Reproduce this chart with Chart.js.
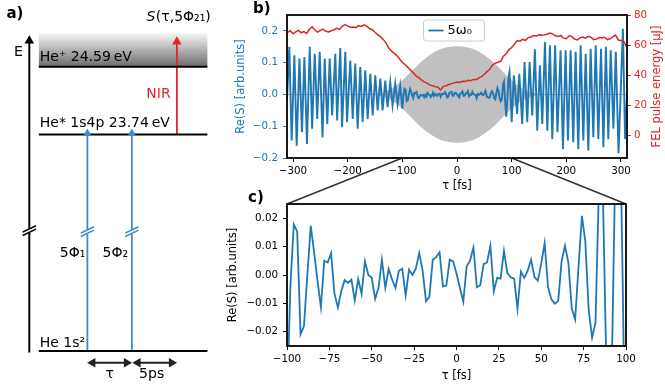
<!DOCTYPE html>
<html>
<head>
<meta charset="utf-8">
<script src="https://cdn.jsdelivr.net/npm/chart.js@4.4.0/dist/chart.umd.min.js"></script>
<style>
  html, body { margin: 0; padding: 0; background: #fff; }
  #wrap { position: relative; width: 665px; height: 388px; overflow: hidden; }
  canvas { position: absolute; }
  #ca { left: 0; top: 0; }
  #cc { left: 225px; top: 150px; }
  #cb { left: 225px; top: 0; }
</style>
</head>
<body>
<div id="wrap">
  <canvas id="ca" width="230" height="388"></canvas>
  <canvas id="cc" width="440" height="238"></canvas>
  <canvas id="cb" width="440" height="200"></canvas>
</div>
<script>
// ---- data ----
// panel b, outer parts: turning points of Re(S) (tau in fs)
const tauLeft = [-311, -306.8, -302.5, -297.5, -293.3, -288.3, -283.6, -279.2, -274.5, -269.4,
  -265.0, -260.3, -255.7, -251.2, -246.0, -242.0, -237.3, -232.9, -228.4, -222.6,
  -219.3, -213.5, -210.3, -204.3, -201.2, -195.2, -190.8, -186.1, -181.7, -176.9,
  -172.6, -167.8, -163.4, -158.6, -154.3, -149.5, -145.2, -140.3, -136.1, -131.2,
  -127.0, -122.1, -117.9, -113.0, -108.7, -103.9];
const reLeft = [-0.02, 0.150, -0.145, 0.123, -0.161, 0.113, -0.119, 0.118, -0.156, 0.150,
  -0.108, 0.128, -0.077, 0.134, -0.135, 0.113, -0.093, 0.113, -0.066, 0.128,
  -0.082, 0.146, -0.103, 0.134, -0.087, 0.107, -0.077, 0.097, -0.108, 0.086,
  -0.087, 0.076, -0.077, 0.065, -0.066, 0.060, -0.050, 0.050, -0.050, 0.044,
  -0.040, 0.039, -0.035, 0.034, -0.030, 0.028];
const tauRight = [104, 110, 114, 119.3, 123.6, 128.5, 132.8, 137.7, 142.5, 146.8,
  151.7, 156, 160.9, 165.2, 170, 174.3, 179.5, 183.8, 189.5, 193.8,
  198.7, 203, 207.8, 212.7, 217, 221.9, 226.2, 231.1, 235.4, 240.3,
  244.5, 249.4, 253.7, 258.6, 263.5, 267.8, 272.4, 276.8, 281.2, 286.1,
  290.5, 295.5, 303.5, 307.5, 311];
const reRight = [0.06, -0.061, 0.065, -0.093, 0.102, -0.087, 0.102, -0.066, 0.142, -0.114,
  0.092, -0.093, 0.165, -0.114, 0.155, -0.14, 0.155, -0.119, 0.139, -0.172,
  0.139, -0.145, 0.139, -0.15, 0.134, -0.172, 0.155, -0.145, 0.128, -0.177,
  0.144, -0.135, 0.155, -0.14, 0.144, -0.166, 0.15, -0.14, 0.139, -0.108,
  0.134, -0.185, 0.207, -0.14, 0.0];

// panel c (and middle of b): samples every 2 fs from -100 to 100
const tauZoom = Array.from({ length: 101 }, (_, i) => -100 + 2 * i);
const reZoom = [-0.045, -0.004, 0.0178, 0.0153, -0.0209, -0.018, 0.000, 0.0173, 0.008, -0.002,
  -0.0113, 0.005, 0.0044, 0.0077, -0.0065, -0.0115, -0.0057, -0.0018, -0.0028, -0.0016,
  -0.009, -0.0014, -0.0066, 0.0048, 0.0000, -0.001, -0.0084, -0.0045, 0.0054, -0.0045,
  0.0021, -0.0016, -0.0045, 0.0015, 0.0022, -0.0072, 0.0019, 0.0000, 0.0022, 0.0077,
  0.0016, -0.0092, -0.0077, 0.0054, 0.0063, 0.008, -0.004, -0.0037, 0.0054, 0.0048,
  0.0005, -0.0045, -0.0094, 0.003, 0.0051, 0.0097, -0.0043, -0.0036, 0.0038, 0.0044,
  0.0103, -0.0057, -0.001, -0.0013, 0.0085, 0.0007, -0.0008, -0.0013, -0.0119, 0.0012,
  -0.001, 0.0015, 0.0054, -0.0007, -0.002, 0.004, 0.0112, -0.0042, -0.0086, -0.0101,
  -0.0092, 0.0048, 0.0103, 0.0044, -0.0117, -0.0156, 0.003, 0.0208, 0.0118, -0.0124,
  -0.022, -0.0168, 0.03, 0.04, -0.02, -0.07, -0.02, 0.05, 0.07, 0.0,
  -0.087];

// grey pulse envelope (half height)
const envTau = [-311, -170, -150, -140, -130, -120, -110, -100, -90, -80,
  -70, -60, -50, -40, -30, -20, -10, 0, 10, 20,
  30, 40, 50, 60, 70, 80, 90, 100, 110, 120,
  130, 140, 150, 170, 311];
const envAmp = [0, 0, 0.002, 0.005, 0.010, 0.018, 0.030, 0.045, 0.061, 0.079,
  0.096, 0.111, 0.124, 0.135, 0.143, 0.148, 0.151, 0.152, 0.151, 0.148,
  0.143, 0.135, 0.124, 0.111, 0.096, 0.079, 0.061, 0.045, 0.030, 0.018,
  0.010, 0.005, 0.002, 0, 0];

// FEL pulse energy (uJ), every 5 fs from -310 to 310
const felTau = Array.from({ length: 125 }, (_, i) => -310 + 5 * i);
const felEnergy = [68.5, 69.5, 67.5, 68.8, 69.8, 68.2, 69.0, 67.8, 70.5, 72.2,
  70.0, 68.6, 69.8, 70.6, 69.2, 68.8, 69.5, 70.2, 71.2, 70.4,
  72.5, 73.6, 72.8, 71.8, 72.0, 71.6, 72.9, 72.4, 73.4, 72.6,
  71.0, 70.2, 68.5, 67.0, 65.6, 63.8, 61.5, 58.2, 56.0, 54.5,
  53.0, 50.8, 48.6, 47.0, 45.2, 43.4, 41.6, 39.6, 38.4, 36.8,
  35.6, 34.8, 33.6, 33.0, 32.4, 32.0, 30.2, 32.6, 33.0, 33.8,
  34.4, 34.9, 35.4, 35.2, 36.0, 35.8, 36.6, 36.4, 37.2, 37.0,
  38.2, 39.0, 40.6, 42.4, 44.0, 46.8, 48.0, 48.6, 49.4, 52.6,
  54.2, 57.0, 58.4, 60.6, 63.0, 62.6, 63.8, 63.2, 64.8, 65.4,
  66.4, 66.0, 66.9, 66.5, 66.8, 67.2, 68.0, 67.4, 66.2, 65.8,
  66.4, 64.6, 64.2, 66.2, 65.8, 64.0, 63.4, 64.8, 65.4, 64.6,
  65.8, 65.2, 63.6, 64.0, 65.0, 64.8, 65.2, 63.6, 64.2, 65.4,
  66.6, 63.4, 63.0, 62.4, 59.0];

// tick values of panel c's y axis
const ticksYC = [-0.02, -0.01, 0, 0.01, 0.02];

const BLUE = '#1f77b4';
const RED = '#d62728';
const FONT = 'DejaVu Sans';

Chart.defaults.font.family = FONT;
Chart.defaults.font.size = 10.3;
Chart.defaults.color = '#000';
Chart.defaults.animation = false;

const minus = (s) => String(s).replace('-', '\u2212');
const xy = (xs, ys) => xs.map((x, i) => ({ x: x, y: ys[i] }));

// ---- panel b ----
const signalB = [].concat(xy(tauLeft, reLeft), xy(tauZoom, reZoom), xy(tauRight, reRight));

const frame = {
  id: 'frame',
  afterDraw(chart) {
    const { ctx, chartArea: a } = chart;
    ctx.save();
    ctx.strokeStyle = '#000';
    ctx.lineWidth = 1.8;
    ctx.strokeRect(a.left, a.top, a.right - a.left, a.bottom - a.top);
    ctx.restore();
  }
};

const extrasB = {
  id: 'extrasB',
  afterDatasetsDraw(chart) {
    const { ctx, chartArea: a } = chart;
    const cx = (a.left + a.right) / 2 - 3;
    const w = 61, h = 21, x0 = cx - w / 2, y0 = a.top + 5;
    ctx.save();
    ctx.fillStyle = 'rgba(255,255,255,0.8)';
    ctx.strokeStyle = '#cccccc';
    ctx.lineWidth = 1;
    ctx.beginPath();
    if (ctx.roundRect) ctx.roundRect(x0, y0, w, h, 3); else ctx.rect(x0, y0, w, h);
    ctx.fill();
    ctx.stroke();
    ctx.strokeStyle = BLUE;
    ctx.lineWidth = 1.8;
    ctx.beginPath();
    ctx.moveTo(x0 + 5, y0 + h / 2);
    ctx.lineTo(x0 + 20, y0 + h / 2);
    ctx.stroke();
    ctx.fillStyle = '#000';
    ctx.font = '13px ' + FONT;
    ctx.textBaseline = 'middle';
    ctx.fillText('5\u03c9\u2080', x0 + 24, y0 + h / 2 + 0.5);
    ctx.restore();
  },
  afterDraw(chart) {
    const { ctx, chartArea: a } = chart;
    ctx.save();
    ctx.font = 'bold 15px ' + FONT;
    ctx.fillStyle = '#000';
    ctx.fillText('b)', 28, 13);
    ctx.translate(chart.scales.y2.right - 8.3, (a.top + a.bottom) / 2);
    ctx.rotate(-Math.PI / 2);
    ctx.textAlign = 'center';
    ctx.textBaseline = 'middle';
    ctx.fillStyle = RED;
    ctx.font = '11.5px ' + FONT;
    ctx.fillText('FEL pulse energy [\u03bcJ]', 0, 0);
    ctx.restore();
  }
};

const chartB = new Chart(document.getElementById('cb'), {
  type: 'line',
  data: {
    datasets: [
      { data: xy(envTau, envAmp), fill: '+1', backgroundColor: '#c0c0c0', borderWidth: 0,
        borderColor: 'rgba(0,0,0,0)', pointRadius: 0, yAxisID: 'y', order: 5 },
      { data: xy(envTau, envAmp.map(v => -v)), fill: false, borderWidth: 0,
        borderColor: 'rgba(0,0,0,0)', pointRadius: 0, yAxisID: 'y', order: 4 },
      { data: [{ x: -311, y: 0 }, { x: 311, y: 0 }], borderColor: '#a8a8a8', borderWidth: 1,
        pointRadius: 0, yAxisID: 'y', order: 3 },
      { data: signalB, borderColor: BLUE, borderWidth: 1.9, pointRadius: 0, yAxisID: 'y', order: 2, clip: 0 },
      { data: xy(felTau, felEnergy), borderColor: RED, borderWidth: 1.5, pointRadius: 0, yAxisID: 'y2', order: 1, clip: 0 }
    ]
  },
  options: {
    responsive: false,
    events: [],
    layout: { padding: { top: 15, left: 0, right: 0, bottom: 0 } },
    scales: {
      x: {
        type: 'linear', min: -311, max: 311,
        ticks: { stepSize: 100, includeBounds: false, padding: 3, maxRotation: 0, autoSkip: false,
          callback: v => minus(v) },
        grid: { drawOnChartArea: false, drawTicks: true, tickLength: 4, color: '#000' },
        border: { display: false },
        title: { display: true, text: '\u03c4 [fs]', font: { size: 11.5 }, padding: { top: 0, bottom: 7 } },
        afterFit: s => { s.height = 42; }
      },
      y: {
        position: 'left', min: -0.2, max: 0.25,
        ticks: { stepSize: 0.1, includeBounds: false, padding: 5, color: BLUE,
          callback: v => minus(v.toFixed(1)) },
        grid: { drawOnChartArea: false, drawTicks: true, tickLength: 4, color: BLUE },
        border: { display: false },
        title: { display: true, text: 'Re(S) [arb.units]', color: BLUE, font: { size: 11.5 }, padding: { top: 8.8, bottom: 0 } },
        afterFit: s => { s.width = 62; }
      },
      y2: {
        position: 'right', min: -15, max: 80,
        ticks: { stepSize: 20, includeBounds: false, padding: 3, color: RED, callback: v => minus(v) },
        grid: { drawOnChartArea: false, drawTicks: true, tickLength: 4, color: RED },
        border: { display: false },
        afterFit: s => { s.width = 38; }
      }
    },
    plugins: { legend: { display: false }, tooltip: { enabled: false } }
  },
  plugins: [extrasB, frame]
});

// ---- panel c ----
const extrasC = {
  id: 'extrasC',
  afterDraw(chart) {
    const { ctx, chartArea: a } = chart;
    const sx = chartB.scales.x;
    const yb = chartB.chartArea.bottom - 150;
    ctx.save();
    ctx.strokeStyle = '#333';
    ctx.lineWidth = 1.5;
    ctx.beginPath();
    ctx.moveTo(sx.getPixelForValue(-100), yb);
    ctx.lineTo(a.left, a.top);
    ctx.moveTo(sx.getPixelForValue(100), yb);
    ctx.lineTo(a.right, a.top);
    ctx.stroke();
    ctx.font = 'bold 15px ' + FONT;
    ctx.fillStyle = '#000';
    ctx.fillText('c)', 23, 52);
    ctx.restore();
  }
};

new Chart(document.getElementById('cc'), {
  type: 'line',
  data: {
    datasets: [
      { data: xy(tauZoom, reZoom), borderColor: BLUE, borderWidth: 1.8, pointRadius: 0, clip: 0 }
    ]
  },
  options: {
    responsive: false,
    events: [],
    layout: { padding: { top: 54, left: 0, right: 39, bottom: 0 } },
    scales: {
      x: {
        type: 'linear', min: -100, max: 100,
        ticks: { stepSize: 25, includeBounds: false, padding: 3, maxRotation: 0, autoSkip: false,
          callback: v => minus(v) },
        grid: { drawOnChartArea: false, drawTicks: true, tickLength: 4, color: '#000' },
        border: { display: false },
        title: { display: true, text: '\u03c4 [fs]', font: { size: 11.5 }, padding: { top: 0, bottom: 5 } },
        afterFit: s => { s.height = 42; }
      },
      y: {
        min: -0.025, max: 0.025,
        afterBuildTicks: s => { s.ticks = ticksYC.map(v => ({ value: v })); },
        ticks: { padding: 5, callback: v => minus(v.toFixed(2)) },
        grid: { drawOnChartArea: false, drawTicks: true, tickLength: 4, color: '#000' },
        border: { display: false },
        title: { display: true, text: 'Re(S) [arb.units]', font: { size: 11.5 }, padding: { top: 1.4, bottom: 0 } },
        afterFit: s => { s.width = 62; }
      }
    },
    plugins: { legend: { display: false }, tooltip: { enabled: false } }
  },
  plugins: [extrasC, frame]
});

// ---- panel a: level scheme, drawn on a pixel-like linear grid ----
const levelY = [63, 132.7, 355.7];          // He+, He* 1s4p, He 1s2
const levelX = [35, 212];
const pumpX = [86, 132.7];                   // the two 5 Phi pulses
const probeX = 180;                          // NIR
const axisX = 25;

const seg = (pts, color, w, order) => ({
  data: pts, showLine: true, borderColor: color, borderWidth: w, pointRadius: 0, order: order
});
const head = (x, y, rot, color, r) => ({
  data: [{ x: x, y: y }], showLine: false, pointStyle: 'triangle', pointRadius: r, rotation: rot,
  backgroundColor: color, borderColor: color, borderWidth: 0, order: 0
});
const breakMark = (x, y, color, half) => [
  seg([{ x: x, y: y - 2 }, { x: x, y: y + 2 }], '#fff', 5, 5),
  seg([{ x: x - half, y: y + 1.5 }, { x: x + half, y: y - 5 }], color, 1.5, 1),
  seg([{ x: x - half, y: y + 5 }, { x: x + half, y: y - 1.5 }], color, 1.5, 1)
];

const BLUE_A = '#3c8dd0';
const RED_A = '#e2262b';
const DARK = '#222';

const diagramSets = [
  ...levelY.map(y => seg([{ x: levelX[0], y: y }, { x: levelX[1], y: y }], '#000', 2, 10)),
  seg([{ x: axisX, y: 357 }, { x: axisX, y: 37 }], '#000', 2, 10),
  head(axisX, 36.2, 0, '#000', 5.5),
  ...breakMark(axisX, 231.7, '#000', 7),
  ...pumpX.map(x => seg([{ x: x, y: levelY[2] }, { x: x, y: 132 }], BLUE_A, 1.8, 10)),
  ...pumpX.map(x => head(x, 131.7, 0, BLUE_A, 5)),
  ...pumpX.map(x => breakMark(x, 232.7, BLUE_A, 7)).flat(),
  seg([{ x: probeX, y: levelY[1] }, { x: probeX, y: 37 }], RED_A, 1.8, 10),
  head(probeX, 37.2, 0, RED_A, 5.5),
  seg([{ x: pumpX[0] + 3, y: 367.7 }, { x: pumpX[1] - 3, y: 367.7 }], DARK, 2, 10),
  head(pumpX[0] + 5.5, 367.7, 270, DARK, 5.5),
  head(pumpX[1] - 5.5, 367.7, 90, DARK, 5.5),
  seg([{ x: pumpX[1] + 3, y: 367.7 }, { x: probeX - 3, y: 367.7 }], DARK, 2, 10),
  head(pumpX[1] + 6.3, 367.7, 270, DARK, 5.5),
  head(probeX - 5.5, 367.7, 90, DARK, 5.5)
];

const diagramTexts = [
  { t: 'a)', x: 1, y: 13, font: 'bold 15px ' + FONT },
  { t: 'E', x: 13.5, y: 51.7, align: 'center' },
  { t: 'He\u207a 24.59\u2009eV', x: 36, y: 57 },
  { t: 'He* 1s4p 23.74\u2009eV', x: 36, y: 125.5 },
  { t: 'He 1s\u00b2', x: 36, y: 351.5 },
  { t: 'NIR', x: 173.5, y: 95, align: 'right', color: RED_A },
  { t: '5\u03a6\u2081', x: 57, y: 258.5 },
  { t: '5\u03a6\u2082', x: 102, y: 258.5 },
  { t: '\u03c4', x: 109.5, y: 383.3, align: 'center' },
  { t: '5ps', x: 153.5, y: 383.5, align: 'center' }
];

const diagramDeco = {
  id: 'diagramDeco',
  beforeDatasetsDraw(chart) {
    const { ctx, scales: { x, y } } = chart;
    const x0 = x.getPixelForValue(levelX[0]), x1 = x.getPixelForValue(levelX[1]);
    const y0 = y.getPixelForValue(28.3), y1 = y.getPixelForValue(levelY[0]);
    const g = ctx.createLinearGradient(0, y0, 0, y1);
    g.addColorStop(0, '#f7f7f7');
    g.addColorStop(1, '#6c6c6c');
    ctx.save();
    ctx.fillStyle = g;
    ctx.fillRect(x0, y0, x1 - x0, y1 - y0);
    ctx.restore();
  },
  afterDatasetsDraw(chart) {
    const { ctx, scales: { x, y } } = chart;
    ctx.save();
    ctx.textBaseline = 'alphabetic';
    for (const d of diagramTexts) {
      ctx.font = d.font || ('14px ' + FONT);
      ctx.fillStyle = d.color || '#000';
      ctx.textAlign = d.align || 'left';
      ctx.fillText(d.t, x.getPixelForValue(d.x), y.getPixelForValue(d.y));
    }
    // S(tau,5Phi21) with italic S
    ctx.textAlign = 'left';
    ctx.fillStyle = '#000';
    let px = x.getPixelForValue(148);
    const py = y.getPixelForValue(16);
    ctx.font = 'italic 14px ' + FONT;
    ctx.fillText('S', px, py);
    px += ctx.measureText('S').width + 0.5;
    ctx.font = '14px ' + FONT;
    ctx.fillText('(\u03c4,5\u03a6\u2082\u2081)', px, py);
    ctx.restore();
  }
};

new Chart(document.getElementById('ca'), {
  type: 'scatter',
  data: { datasets: diagramSets },
  options: {
    responsive: false,
    events: [],
    layout: { padding: 0 },
    scales: {
      x: { type: 'linear', min: 0, max: 230, display: false },
      y: { type: 'linear', min: 0, max: 388, reverse: true, display: false }
    },
    plugins: { legend: { display: false }, tooltip: { enabled: false } }
  },
  plugins: [diagramDeco]
});
</script>
</body>
</html>
